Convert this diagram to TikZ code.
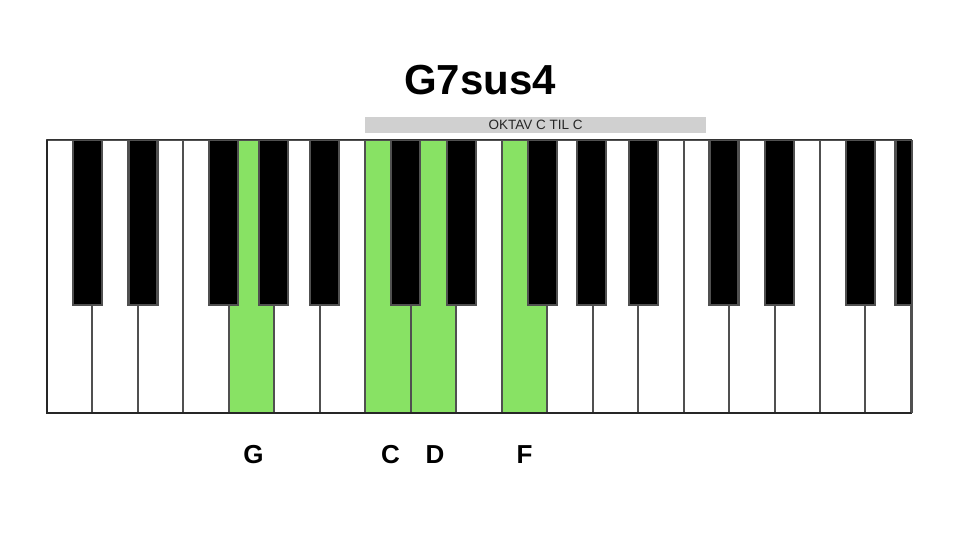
\documentclass[tikz,border=0pt]{standalone}
\usepackage{fontspec}
\setmainfont{Liberation Sans}
\definecolor{keygreen}{RGB}{136,226,100}
\definecolor{keyline}{RGB}{80,80,80}
\definecolor{barbg}{RGB}{208,208,208}
\tikzset{
  whitekey/.style={draw=keyline, line width=2pt},
  blackkey/.style={fill=black, draw=keyline, line width=2.2pt},
  notelabel/.style={font=\bfseries\fontsize{26}{26}\selectfont, anchor=center},
  titlestyle/.style={font=\bfseries\fontsize{42}{42}\selectfont, anchor=center},
  barstyle/.style={fill=barbg, draw=none, minimum width=341pt, minimum height=16pt, inner sep=0pt,
    font=\fontsize{13.5}{13.5}\selectfont, text=black!85}
}
\begin{document}
\begin{tikzpicture}[x=1pt,y=-1pt]
\useasboundingbox (0,0) rectangle (960,540);
\fill[white] (0,0) rectangle (960,540);
\def\kl{47}\def\kr{911.9}\def\kt{140}\def\kb{413}
\def\ww{45.47}
% white keys
\foreach \i in {0,...,18}{
  \pgfmathsetmacro{\xa}{\kl+\i*\ww}
  \pgfmathsetmacro{\xb}{\kl+(\i+1)*\ww}
  \pgfmathtruncatemacro{\isg}{(\i==4)||(\i==7)||(\i==8)||(\i==10)}
  \ifnum\isg=1
    \path[whitekey, fill=keygreen] (\xa,\kt) rectangle (\xb,\kb);
  \else
    \path[whitekey, fill=white] (\xa,\kt) rectangle (\xb,\kb);
  \fi
}
% black keys
\begin{scope}
\clip (\kl,\kt-2) rectangle (\kr,\kb);
\foreach \i/\o in {0/-5,1/5,3/-5,4/-1,5/5,7/-5,8/5,10/-5,11/-1,12/5,14/-5,15/5,17/-5,18/-1}{
  \pgfmathsetmacro{\xc}{\kl+(\i+1)*\ww+\o}
  \path[blackkey] (\xc-14.5,\kt) rectangle (\xc+14.5,305);
}
\end{scope}
% outline
\draw[draw=black!80, line width=1pt] (\kl,\kt) -- (\kr,\kt);
\draw[draw=black!85, line width=2.5pt] (\kl,\kt) -- (\kl,\kb) -- (\kr,\kb);
\draw[draw=keyline, line width=1.5pt] (\kr,\kt) -- (\kr,\kb);
% title and bar
\node[titlestyle] (title) at (480,80) {G7sus4};
\node[barstyle] (bar) at (535.5,125) {OKTAV C TIL C};
% note labels
\node[notelabel] (g) at (253.5,455) {G};
\node[notelabel] (c) at (390.5,455) {C};
\node[notelabel] (d) at (435,455) {D};
\node[notelabel] (f) at (524.5,455) {F};
\end{tikzpicture}
\end{document}
